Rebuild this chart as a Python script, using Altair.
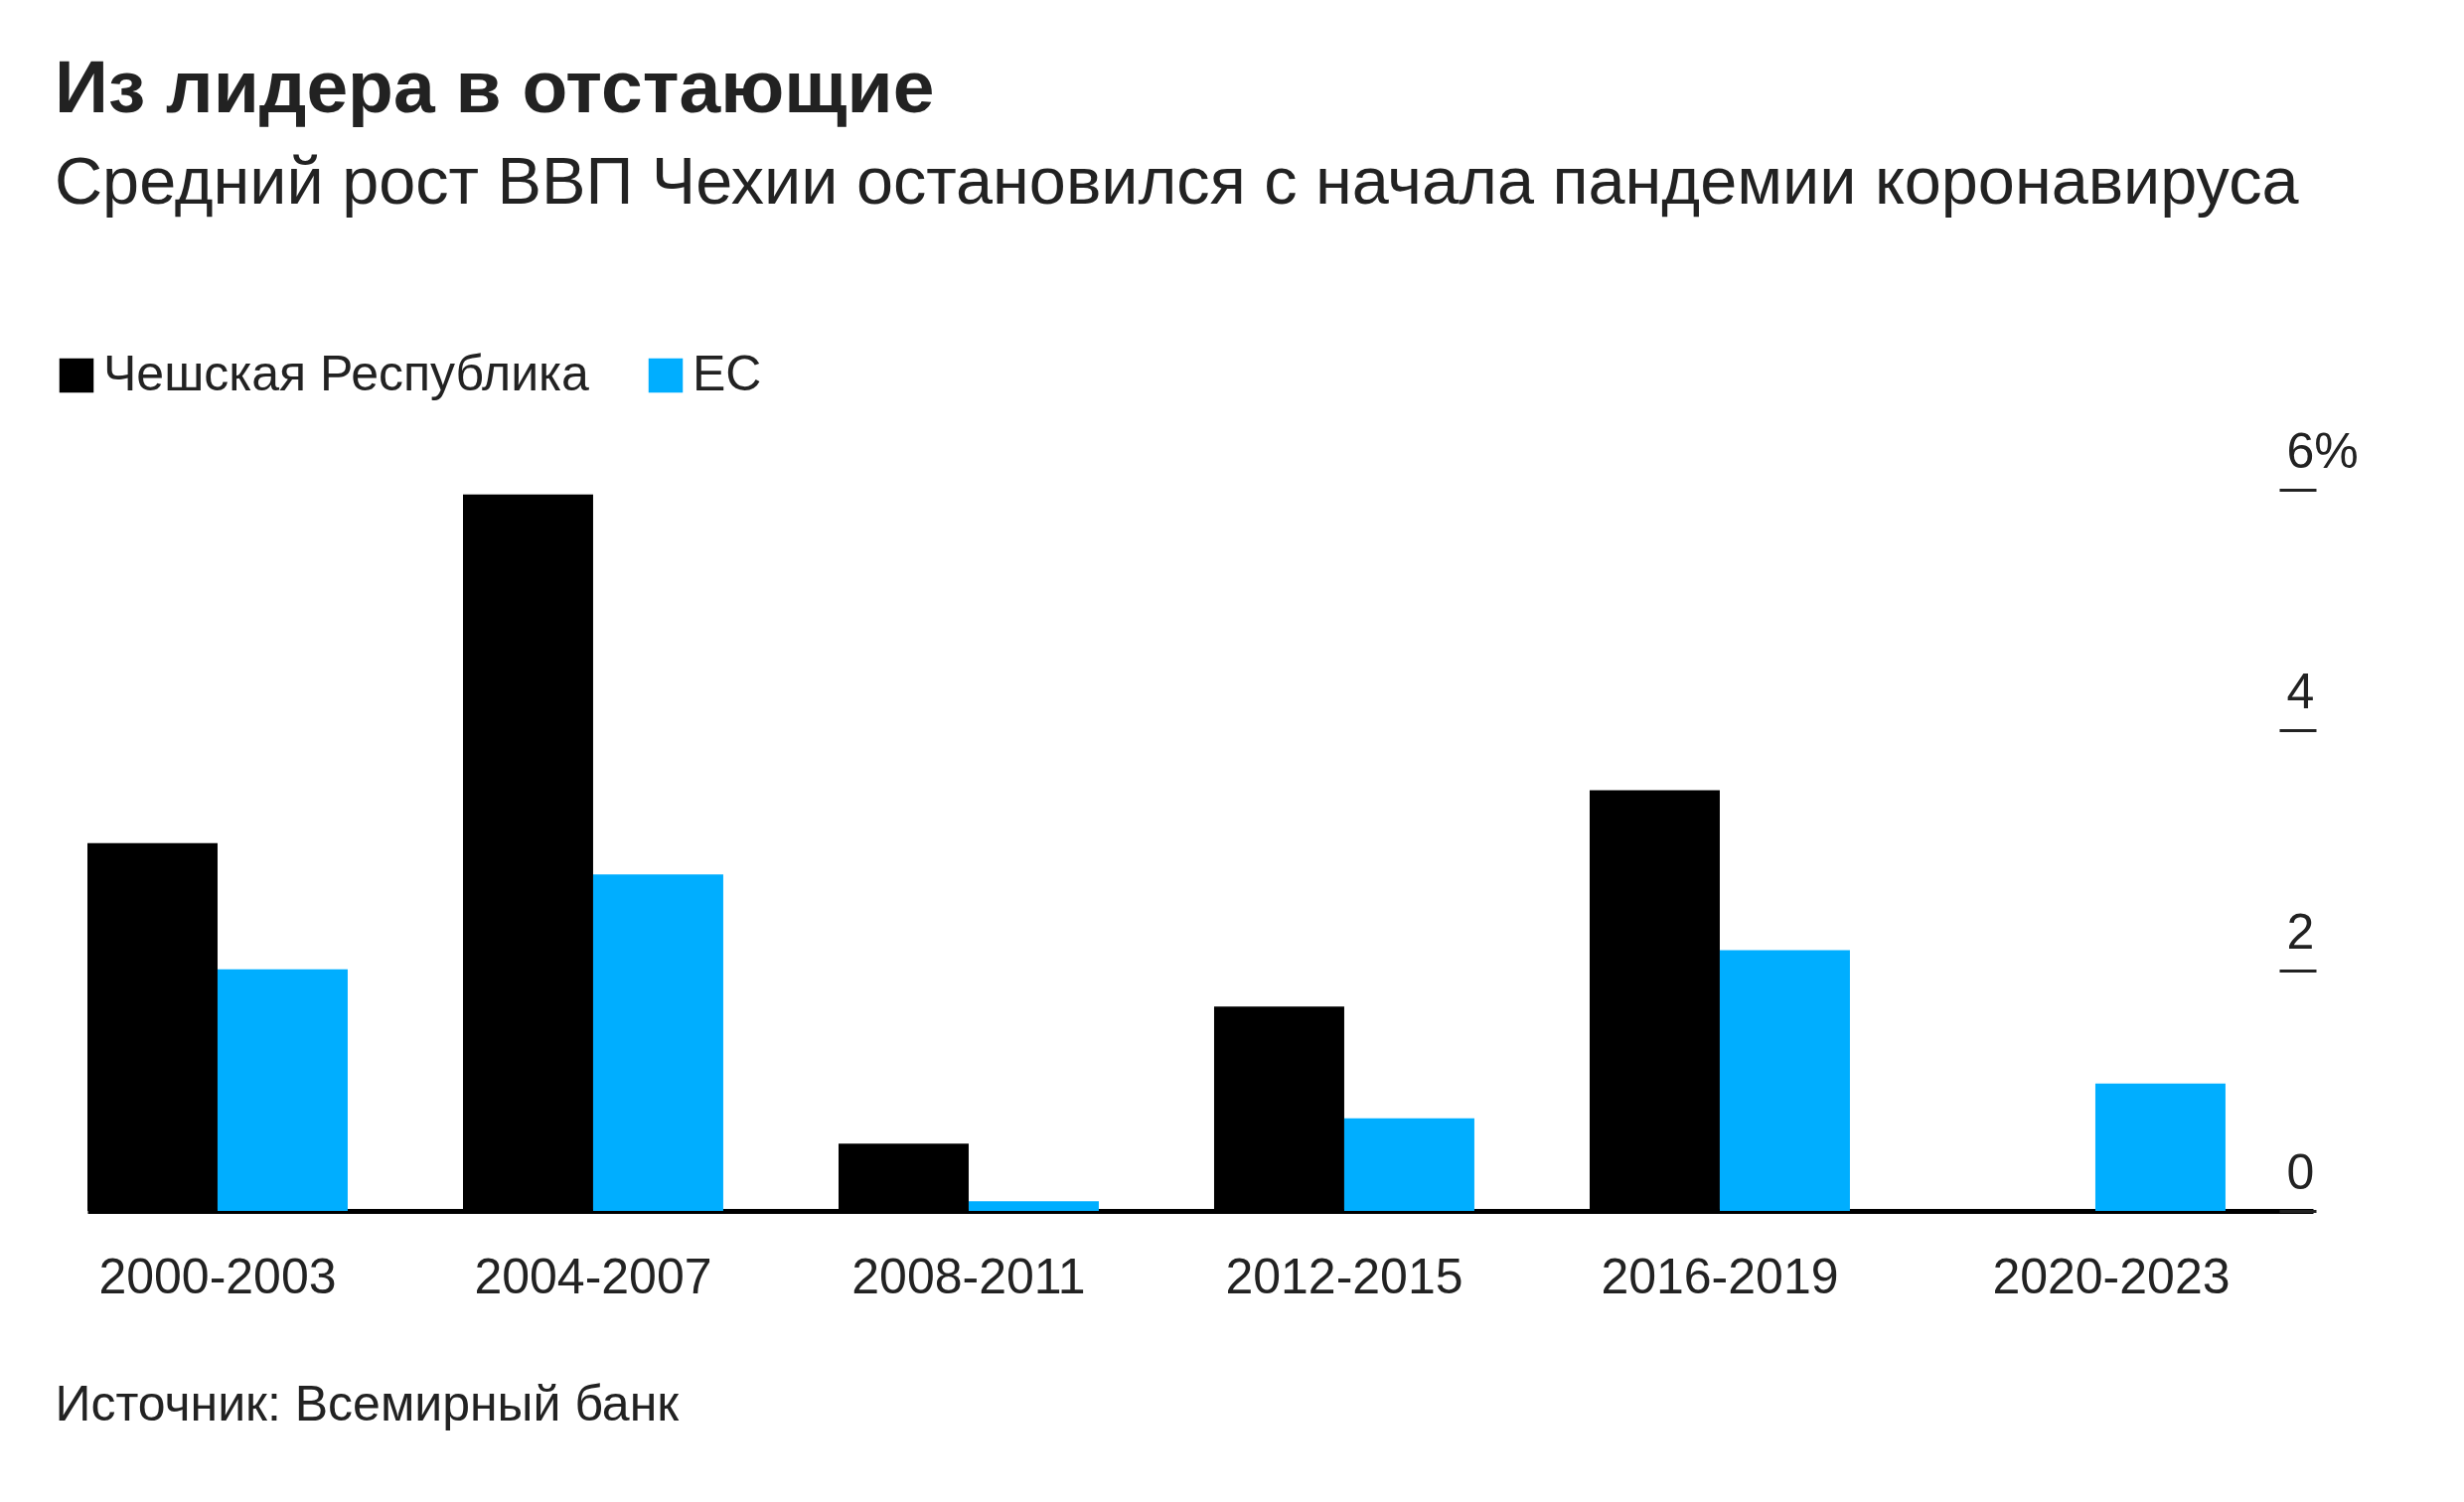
import altair as alt
import pandas as pd

periods = ["2000-2003", "2004-2007", "2008-2011", "2012-2015", "2016-2019", "2020-2023"]
series = ["Чешская Республика", "ЕС"]
czech = [3.06, 5.96, 0.56, 1.70, 3.50, 0.0]
eu = [2.01, 2.80, 0.08, 0.77, 2.17, 1.06]
y_ticks = [0, 2, 4, 6]
colors = ["#000000", "#00aeff"]

title = "Из лидера в отстающие"
subtitle = "Средний рост ВВП Чехии остановился с начала пандемии коронавируса"
source = "Источник: Всемирный банк"

rows = []
for p, c, e in zip(periods, czech, eu):
    rows.append({"period": p, "series": series[0], "value": c})
    rows.append({"period": p, "series": series[1], "value": e})
df = pd.DataFrame(rows)

FONT = "Liberation Sans"
TXT = "#222222"
LBL = 50

chart = alt.Chart(df).mark_bar().encode(
    x=alt.X(
        "period:N",
        sort=periods,
        scale=alt.Scale(paddingInner=0.307, paddingOuter=0.1165, align=0),
        axis=alt.Axis(
            title=source,
            titleFont=FONT,
            titleFontSize=LBL,
            titleFontWeight="normal",
            titleColor=TXT,
            titleAnchor="start",
            titleAlign="left",
            titleBaseline="alphabetic",
            titleX=-33,
            titleY=210,
            labelFont=FONT,
            labelFontSize=LBL,
            labelColor=TXT,
            labelPadding=42,
            labelAngle=0,
            labelLimit=0,
            labelOffset={"condition": {"test": "datum.value == '2020-2023'", "value": 16}, "value": 0},
            ticks=False,
            domainColor="#000000",
            domainWidth=5,
            grid=False,
        ),
    ),
    xOffset=alt.XOffset("series:N", sort=series, scale=alt.Scale(paddingInner=0, paddingOuter=0)),
    y=alt.Y(
        "value:Q",
        scale=alt.Scale(domain=[0, 6], nice=False),
        axis=alt.Axis(
            title=None,
            orient="right",
            values=y_ticks,
            labelExpr="datum.value == 6 ? '6%' : datum.label",
            offset=-34,
            domain=False,
            grid=False,
            tickSize=37,
            tickWidth=3,
            tickColor="#222222",
            labelFont=FONT,
            labelFontSize=LBL,
            labelColor=TXT,
            labelAlign="left",
            labelBaseline="alphabetic",
            labelPadding=-30,
            labelOffset=-23,
            labelLimit=0,
        ),
    ),
    color=alt.Color(
        "series:N",
        sort=series,
        scale=alt.Scale(domain=series, range=colors),
        legend=alt.Legend(
            title=None,
            orient="none",
            legendX=-36,
            legendY=-140,
            direction="horizontal",
            symbolType="square",
            symbolSize=1190,
            symbolStrokeWidth=0,
            symbolOpacity=1,
            labelFont=FONT,
            labelFontSize=LBL,
            labelColor=TXT,
            labelOffset=2,
            labelLimit=0,
            columnPadding=52,
            padding=0,
        ),
    ),
).properties(
    width=2240,
    height=726,
    autosize=alt.AutoSizeParams(type="none"),
    padding={"left": 80, "top": 485, "right": 130, "bottom": 270},
    title=alt.TitleParams(
        text=title,
        subtitle=subtitle,
        anchor="start",
        frame="group",
        dx=-33,
        offset=133,
        font=FONT,
        fontSize=75,
        fontWeight="bold",
        color=TXT,
        subtitleFont=FONT,
        subtitleFontSize=66.6,
        subtitleColor=TXT,
        subtitlePadding=23,
    ),
).configure_view(stroke=None)

chart.save("out.html", embed_options={"renderer": "svg", "actions": False})
